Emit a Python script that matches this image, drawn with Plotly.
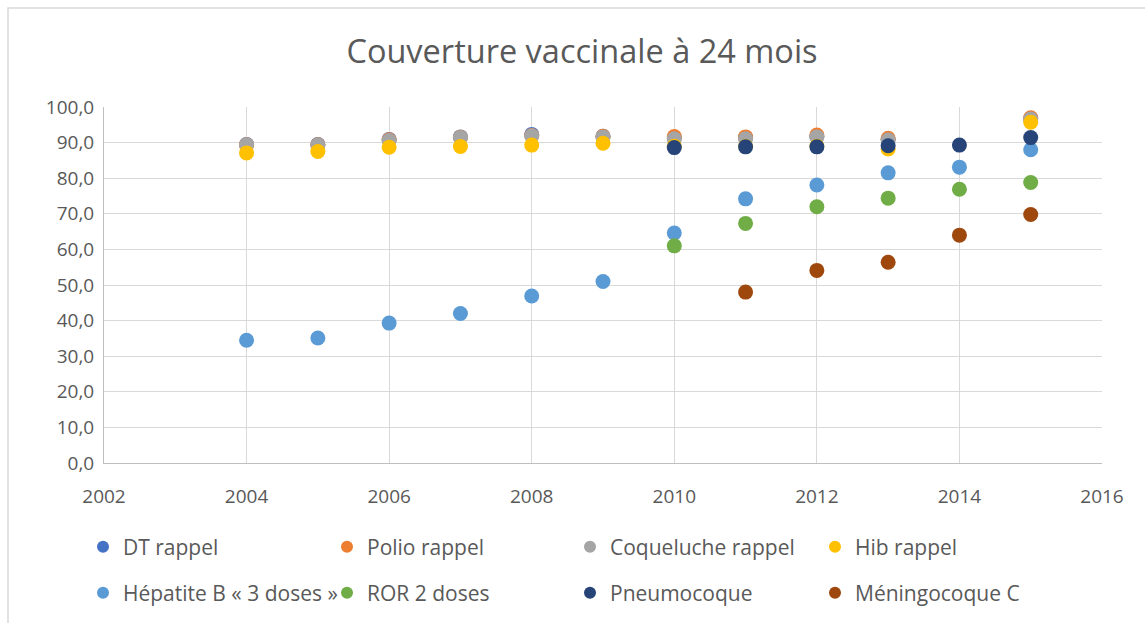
import plotly.graph_objects as go

years = [2004, 2005, 2006, 2007, 2008, 2009, 2010, 2011, 2012, 2013, 2014, 2015]

dt_rappel = [89.5, 89.5, 90.9, 91.6, 92.3, 91.8, 91.3, 91.4, 91.8, 90.9, None, 96.8]
polio_rappel = [89.4, 89.4, 90.8, 91.5, 92.0, 91.8, 91.7, 91.6, 92.1, 91.2, None, 97.0]
coqueluche_rappel = [89.4, 89.3, 90.6, 91.4, 91.9, 91.6, 91.1, 91.1, 91.6, 90.7, None, 96.6]
hib_rappel = [87.1, 87.5, 88.7, 88.9, 89.3, 89.8, 89.0, 88.9, 89.0, 88.2, None, 95.7]
hepatite_b = [34.5, 35.1, 39.3, 42.0, 46.9, 51.0, 64.6, 74.2, 78.1, 81.5, 83.1, 88.0]
ror_2_doses = [None, None, None, None, None, None, 61.0, 67.3, 72.0, 74.4, 76.9, 78.8]
pneumocoque = [None, None, None, None, None, None, 88.6, 88.8, 88.8, 89.1, 89.3, 91.4]
meningocoque_c = [None, None, None, None, None, None, None, 48.0, 54.1, 56.4, 64.0, 69.8]

series_names = ["DT rappel", "Polio rappel", "Coqueluche rappel", "Hib rappel",
                "Hépatite B « 3 doses »", "ROR 2 doses", "Pneumocoque", "Méningocoque C"]
series_values = [dt_rappel, polio_rappel, coqueluche_rappel, hib_rappel,
                 hepatite_b, ror_2_doses, pneumocoque, meningocoque_c]
colors = ["#4472C4", "#ED7D31", "#A5A5A5", "#FFC000",
          "#5B9BD5", "#70AD47", "#264478", "#9E480E"]

x_ticks = [2002, 2004, 2006, 2008, 2010, 2012, 2014, 2016]
y_ticks = [0, 10, 20, 30, 40, 50, 60, 70, 80, 90, 100]

W, H = 1145, 623
L, R, T, B = 104, 1102, 107, 463
pw, ph = R - L, B - T

def px_to_paper_x(px):
    return (px - L) / pw

def px_to_paper_y(py):
    return (B - py) / ph

# legend text start positions (pixels) and row centers
legend_text_x = [123, 367, 610, 855, 123, 367, 610, 855]
legend_row_y = [547, 547, 547, 547, 593, 593, 593, 593]

fig = go.Figure()
font_family = "'Open Sans', sans-serif"
text_color = "#595959"

layout_legends = {}
for i, (name, vals, col) in enumerate(zip(series_names, series_values, colors)):
    lg = "legend" if i == 0 else f"legend{i+1}"
    fig.add_trace(go.Scatter(
        x=years, y=vals, mode="markers", name=name,
        marker=dict(size=15, color=col),
        legend=lg,
    ))
    layout_legends[lg] = dict(
        x=px_to_paper_x(legend_text_x[i] - 40),
        y=px_to_paper_y(legend_row_y[i]),
        xanchor="left", yanchor="middle",
        bgcolor="rgba(0,0,0,0)",
        font=dict(family=font_family, size=21, color=text_color),
        itemsizing="constant",
        tracegroupgap=0,
    )

fig.update_layout(
    width=W, height=H,
    margin=dict(l=L, r=W - R, t=T, b=H - B, pad=0, autoexpand=False),
    paper_bgcolor="white", plot_bgcolor="white",
    separators=", ",
    title=dict(text="Couverture vaccinale à 24 mois",
               x=px_to_paper_x(582), xref="paper", xanchor="center",
               y=1 - 52 / H, yanchor="middle",
               font=dict(family=font_family, size=32.5, color=text_color)),
    showlegend=True,
    xaxis=dict(range=[2002, 2016], tickvals=x_ticks, tickformat="d",
               showgrid=True, gridcolor="#D9D9D9", gridwidth=1,
               showline=True, linecolor="#BFBFBF", linewidth=1,
               zeroline=False, ticks="outside", ticklen=16, tickcolor="rgba(0,0,0,0)",
               tickfont=dict(family=font_family, size=19, color=text_color)),
    yaxis=dict(range=[0, 100], tickvals=y_ticks, tickformat=".1f",
               showgrid=True, gridcolor="#D9D9D9", gridwidth=1,
               showline=True, linecolor="#BFBFBF", linewidth=1,
               zeroline=False, ticks="outside", ticklen=5, tickcolor="rgba(0,0,0,0)",
               tickfont=dict(family=font_family, size=19, color=text_color)),
    shapes=[dict(type="rect", xref="paper", yref="paper",
                 x0=px_to_paper_x(8), x1=px_to_paper_x(1160),
                 y0=px_to_paper_y(640), y1=px_to_paper_y(8),
                 line=dict(color="#D9D9D9", width=1.5), fillcolor="rgba(0,0,0,0)",
                 layer="below")],
    **layout_legends,
)

fig.write_html("out.html", config={"displayModeBar": False},
               post_script="document.body.style.margin='0';document.body.style.overflow='hidden';")
